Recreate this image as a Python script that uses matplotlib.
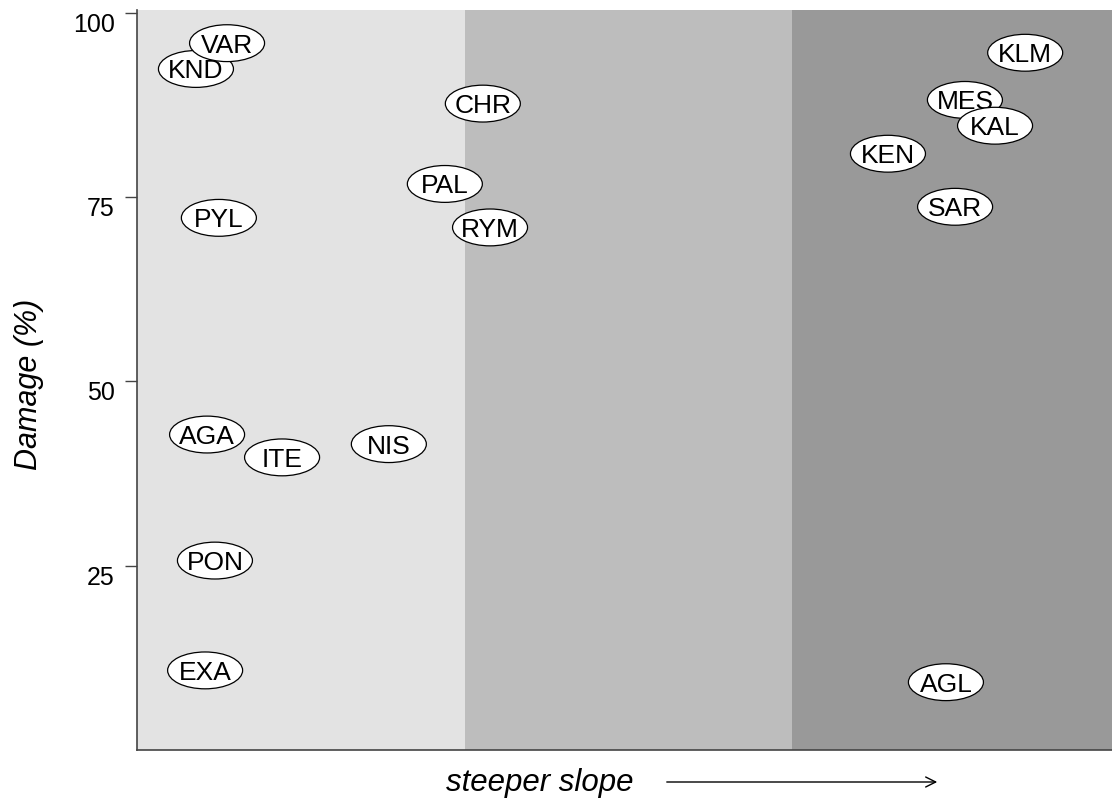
import matplotlib.pyplot as plt
from matplotlib.patches import Ellipse
from matplotlib.transforms import offset_copy

plt.rcParams['font.family'] = ['Liberation Sans', 'DejaVu Sans']

# site labels, position along slope axis (band units) and damage (%)
sites = ['KND', 'VAR', 'CHR', 'PAL', 'RYM', 'PYL', 'AGA', 'ITE', 'NIS', 'PON', 'EXA',
         'AGL', 'KLM', 'MES', 'KAL', 'KEN', 'SAR']
slope = [0.180, 0.275, 1.056, 0.940, 1.078, 0.250, 0.214, 0.443, 0.769, 0.238, 0.208,
         2.470, 2.712, 2.528, 2.620, 2.293, 2.498]
damage = [92.4, 95.9, 87.7, 76.8, 70.9, 72.2, 42.8, 39.7, 41.5, 25.7, 10.8,
          9.2, 94.6, 88.2, 84.7, 80.9, 73.7]

band_edges = [0, 1, 2, 3]
band_colors = ['#e3e3e3', '#bdbdbd', '#999999']
yticks = [25, 50, 75, 100]

fig = plt.figure(figsize=(11.12, 7.98), dpi=100)
ax = fig.add_axes([137 / 1112, 1 - 750 / 798, 1 - 137 / 1112, 740 / 798])

for i, c in enumerate(band_colors):
    ax.axvspan(band_edges[i], band_edges[i + 1], color=c, lw=0, zorder=0)

fs = 19
# shift baseline down so capitals sit centred in each ellipse
txt_trans = offset_copy(ax.transData, fig=fig, y=-0.716 * fs / 2, units='points')
for k, (name, x, y) in enumerate(zip(sites, slope, damage)):
    e = Ellipse((x, y), width=0.229, height=5.0, facecolor='white',
                edgecolor='black', lw=0.9, zorder=2 + 2 * k)
    ax.add_patch(e)
    ax.text(x, y, name, ha='center', va='baseline', fontsize=fs,
            transform=txt_trans, zorder=3 + 2 * k)

ax.set_xlim(0, 975 / 327.5)
ax.set_ylim(0, 100.4)
ax.set_xticks([])
ax.set_yticks(yticks)
ax.tick_params(axis='y', length=9, width=1, labelsize=18, pad=7, color='#444444')
plt.setp(ax.get_yticklabels(), va='top')
for s in ['top', 'right']:
    ax.spines[s].set_visible(False)
for s in ['left', 'bottom']:
    ax.spines[s].set_color('#444444')
    ax.spines[s].set_linewidth(1.2)

ax.set_ylabel('Damage (%)', fontsize=22, style='italic')
ax.yaxis.set_label_coords((44 - 137) / 975, 0.494)

fig.text(540 / 1112, 1 - 783 / 798, 'steeper slope', fontsize=22.5, style='italic',
         ha='center', va='center')
ax.annotate('', xy=(940 / 1112, 1 - 782 / 798), xytext=(664 / 1112, 1 - 782 / 798),
            xycoords='figure fraction', textcoords='figure fraction',
            arrowprops=dict(arrowstyle='->', lw=1, color='black',
                            mutation_scale=18))

fig.savefig('out.png', dpi=100)
